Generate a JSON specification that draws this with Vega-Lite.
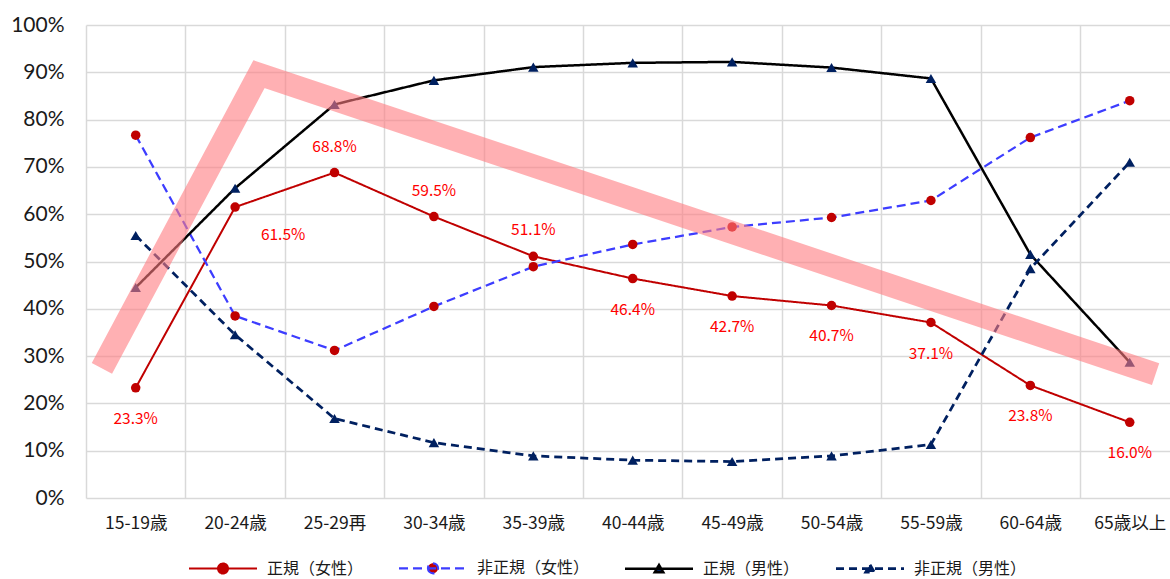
{
  "$schema": "https://vega.github.io/schema/vega-lite/v6.json",
  "autosize": {"type": "none"},
  "width": 1084,
  "height": 473,
  "padding": {"left": 86, "top": 25, "right": 0, "bottom": 81},
  "background": "white",
  "config": {"view": {"stroke": null}},
  "datasets": {
    "rates": [
      {"age": "15-19歳", "i": 0, "series": "正規（女性）", "rate": 0.233},
      {"age": "20-24歳", "i": 1, "series": "正規（女性）", "rate": 0.615},
      {"age": "25-29再", "i": 2, "series": "正規（女性）", "rate": 0.688},
      {"age": "30-34歳", "i": 3, "series": "正規（女性）", "rate": 0.595},
      {"age": "35-39歳", "i": 4, "series": "正規（女性）", "rate": 0.511},
      {"age": "40-44歳", "i": 5, "series": "正規（女性）", "rate": 0.464},
      {"age": "45-49歳", "i": 6, "series": "正規（女性）", "rate": 0.427},
      {"age": "50-54歳", "i": 7, "series": "正規（女性）", "rate": 0.407},
      {"age": "55-59歳", "i": 8, "series": "正規（女性）", "rate": 0.371},
      {"age": "60-64歳", "i": 9, "series": "正規（女性）", "rate": 0.238},
      {"age": "65歳以上", "i": 10, "series": "正規（女性）", "rate": 0.160},
      {"age": "15-19歳", "i": 0, "series": "非正規（女性）", "rate": 0.767},
      {"age": "20-24歳", "i": 1, "series": "非正規（女性）", "rate": 0.385},
      {"age": "25-29再", "i": 2, "series": "非正規（女性）", "rate": 0.312},
      {"age": "30-34歳", "i": 3, "series": "非正規（女性）", "rate": 0.405},
      {"age": "35-39歳", "i": 4, "series": "非正規（女性）", "rate": 0.489},
      {"age": "40-44歳", "i": 5, "series": "非正規（女性）", "rate": 0.536},
      {"age": "45-49歳", "i": 6, "series": "非正規（女性）", "rate": 0.573},
      {"age": "50-54歳", "i": 7, "series": "非正規（女性）", "rate": 0.593},
      {"age": "55-59歳", "i": 8, "series": "非正規（女性）", "rate": 0.629},
      {"age": "60-64歳", "i": 9, "series": "非正規（女性）", "rate": 0.762},
      {"age": "65歳以上", "i": 10, "series": "非正規（女性）", "rate": 0.840},
      {"age": "15-19歳", "i": 0, "series": "正規（男性）", "rate": 0.445},
      {"age": "20-24歳", "i": 1, "series": "正規（男性）", "rate": 0.655},
      {"age": "25-29再", "i": 2, "series": "正規（男性）", "rate": 0.832},
      {"age": "30-34歳", "i": 3, "series": "正規（男性）", "rate": 0.883},
      {"age": "35-39歳", "i": 4, "series": "正規（男性）", "rate": 0.911},
      {"age": "40-44歳", "i": 5, "series": "正規（男性）", "rate": 0.920},
      {"age": "45-49歳", "i": 6, "series": "正規（男性）", "rate": 0.922},
      {"age": "50-54歳", "i": 7, "series": "正規（男性）", "rate": 0.910},
      {"age": "55-59歳", "i": 8, "series": "正規（男性）", "rate": 0.887},
      {"age": "60-64歳", "i": 9, "series": "正規（男性）", "rate": 0.515},
      {"age": "65歳以上", "i": 10, "series": "正規（男性）", "rate": 0.287},
      {"age": "15-19歳", "i": 0, "series": "非正規（男性）", "rate": 0.555},
      {"age": "20-24歳", "i": 1, "series": "非正規（男性）", "rate": 0.345},
      {"age": "25-29再", "i": 2, "series": "非正規（男性）", "rate": 0.168},
      {"age": "30-34歳", "i": 3, "series": "非正規（男性）", "rate": 0.117},
      {"age": "35-39歳", "i": 4, "series": "非正規（男性）", "rate": 0.089},
      {"age": "40-44歳", "i": 5, "series": "非正規（男性）", "rate": 0.080},
      {"age": "45-49歳", "i": 6, "series": "非正規（男性）", "rate": 0.077},
      {"age": "50-54歳", "i": 7, "series": "非正規（男性）", "rate": 0.089},
      {"age": "55-59歳", "i": 8, "series": "非正規（男性）", "rate": 0.113},
      {"age": "60-64歳", "i": 9, "series": "非正規（男性）", "rate": 0.485},
      {"age": "65歳以上", "i": 10, "series": "非正規（男性）", "rate": 0.710}
    ],
    "trend": [
      {"tx": -0.34, "ty": 0.274},
      {"tx": 1.24, "ty": 0.896},
      {"tx": 10.26, "ty": 0.262}
    ]
  },
  "layer": [
    {
      "data": {"name": "rates"},
      "mark": {"type": "line"},
      "encoding": {
        "x": {
          "field": "i",
          "type": "quantitative",
          "scale": {"domain": [-0.5, 10.405], "nice": false, "zero": false},
          "axis": {
            "title": null,
            "values": [-0.5, 0.5, 1.5, 2.5, 3.5, 4.5, 5.5, 6.5, 7.5, 8.5, 9.5],
            "labelExpr": "['15-19歳','20-24歳','25-29再','30-34歳','35-39歳','40-44歳','45-49歳','50-54歳','55-59歳','60-64歳','65歳以上'][round(datum.value + 0.5)]",
            "labelOffset": 49.7,
            "grid": true,
            "gridColor": "#d9d9d9",
            "gridWidth": 1.5,
            "domain": false,
            "ticks": false,
            "labelFont": "Noto Sans CJK JP",
            "labelFontSize": 17.5,
            "labelColor": "#1a1a1a",
            "labelPadding": 16,
            "labelOverlap": false,
            "labelBound": false,
            "labelFlush": false
          }
        },
        "y": {
          "field": "rate",
          "type": "quantitative",
          "scale": {"domain": [0, 1], "nice": false},
          "axis": {
            "title": null,
            "values": [0, 0.1, 0.2, 0.3, 0.4, 0.5, 0.6, 0.7, 0.8, 0.9, 1],
            "format": ".0%",
            "grid": true,
            "gridColor": "#d9d9d9",
            "gridWidth": 1.5,
            "domain": false,
            "ticks": false,
            "labelFont": "Lato",
            "labelFontSize": 21,
            "labelColor": "#1a1a1a",
            "labelPadding": 22
          }
        },
        "color": {
          "field": "series",
          "type": "nominal",
          "scale": {
            "domain": ["正規（女性）", "非正規（女性）", "正規（男性）", "非正規（男性）"],
            "range": ["#c00000", "#3d3dff", "#000000", "#002060"]
          },
          "legend": {
            "title": null,
            "orient": "none",
            "legendX": 129,
            "legendY": 535,
            "direction": "horizontal",
            "columns": 4,
            "columnPadding": 30,
            "labelFont": "Noto Sans CJK JP",
            "labelFontSize": 16,
            "labelColor": "#1a1a1a",
            "labelOffset": 36,
            "symbolSize": 100,
            "encode": {
              "symbols": {
                "update": {
                  "shape": {"signal": "indexof(['正規（女性）','非正規（女性）'], datum.value) >= 0 ? 'M-6.8,0H6.8M-1,0A1,1 0 1,0 1,0A1,1 0 1,0 -1,0Z' : 'M-6.8,0H6.8M0,-0.75L0.85,0.7L-0.85,0.7Z'"},
                  "size": {"value": 100},
                  "fill": {"scale": "fill", "field": "value"},
                  "stroke": {"scale": "color", "field": "value"},
                  "strokeWidth": {"signal": "indexof(['非正規（女性）','非正規（男性）'], datum.value) >= 0 ? 2.6 : 2"},
                  "strokeDash": {"signal": "indexof(['非正規（女性）','非正規（男性）'], datum.value) >= 0 ? [8, 5] : [1, 0]"},
                  "opacity": {"value": 1},
                  "fillOpacity": {"value": 1},
                  "strokeOpacity": {"value": 1}
                }
              }
            }
          }
        },
        "strokeDash": {
          "field": "series",
          "type": "nominal",
          "scale": {
            "domain": ["正規（女性）", "非正規（女性）", "正規（男性）", "非正規（男性）"],
            "range": [[1, 0], [9, 5], [1, 0], [8, 5]]
          },
          "legend": null
        },
        "strokeWidth": {
          "field": "series",
          "type": "nominal",
          "scale": {
            "domain": ["正規（女性）", "非正規（女性）", "正規（男性）", "非正規（男性）"],
            "range": [2, 2.75, 1.75, 2.4]
          },
          "legend": null
        }
      }
    },
    {
      "data": {"name": "rates"},
      "transform": [{"filter": "indexof(['正規（女性）','非正規（女性）'], datum.series) >= 0"}],
      "mark": {"type": "point", "shape": "circle", "filled": true, "opacity": 1, "size": 90},
      "encoding": {
        "x": {"field": "i", "type": "quantitative"},
        "y": {"field": "rate", "type": "quantitative"},
        "fill": {
          "field": "series",
          "type": "nominal",
          "scale": {
            "domain": ["正規（女性）", "非正規（女性）", "正規（男性）", "非正規（男性）"],
            "range": ["#c00000", "#c00000", "#002060", "#002060"]
          },
          "legend": null
        }
      }
    },
    {
      "data": {"name": "rates"},
      "transform": [{"filter": "indexof(['正規（男性）','非正規（男性）'], datum.series) >= 0"}],
      "mark": {"type": "point", "shape": "triangle-up", "filled": true, "opacity": 1, "size": 110},
      "encoding": {
        "x": {"field": "i", "type": "quantitative"},
        "y": {"field": "rate", "type": "quantitative"},
        "fill": {"field": "series", "type": "nominal", "legend": null}
      }
    },
    {
      "data": {"name": "trend"},
      "mark": {"type": "line", "stroke": "#ff7c80", "strokeWidth": 23, "opacity": 0.6, "strokeCap": "butt", "strokeJoin": "miter"},
      "encoding": {
        "x": {"field": "tx", "type": "quantitative"},
        "y": {"field": "ty", "type": "quantitative"}
      }
    },
    {
      "data": {"name": "rates"},
      "transform": [{"filter": "datum.series == '正規（女性）' && indexof(['25-29再','30-34歳','35-39歳'], datum.age) >= 0"}],
      "mark": {"type": "text", "font": "Noto Sans CJK JP", "fontSize": 15.5, "fill": "#ff0000", "baseline": "middle", "align": "center", "dy": -26},
      "encoding": {
        "x": {"field": "i", "type": "quantitative"},
        "y": {"field": "rate", "type": "quantitative"},
        "text": {"field": "rate", "type": "quantitative", "format": ".1%"}
      }
    },
    {
      "data": {"name": "rates"},
      "transform": [{"filter": "datum.series == '正規（女性）' && datum.age == '20-24歳'"}],
      "mark": {"type": "text", "font": "Noto Sans CJK JP", "fontSize": 15.5, "fill": "#ff0000", "baseline": "middle", "align": "center", "dx": 48, "dy": 28},
      "encoding": {
        "x": {"field": "i", "type": "quantitative"},
        "y": {"field": "rate", "type": "quantitative"},
        "text": {"field": "rate", "type": "quantitative", "format": ".1%"}
      }
    },
    {
      "data": {"name": "rates"},
      "transform": [{"filter": "datum.series == '正規（女性）' && indexof(['20-24歳','25-29再','30-34歳','35-39歳'], datum.age) < 0"}],
      "mark": {"type": "text", "font": "Noto Sans CJK JP", "fontSize": 15.5, "fill": "#ff0000", "baseline": "middle", "align": "center", "dy": 31},
      "encoding": {
        "x": {"field": "i", "type": "quantitative"},
        "y": {"field": "rate", "type": "quantitative"},
        "text": {"field": "rate", "type": "quantitative", "format": ".1%"}
      }
    }
  ]
}
